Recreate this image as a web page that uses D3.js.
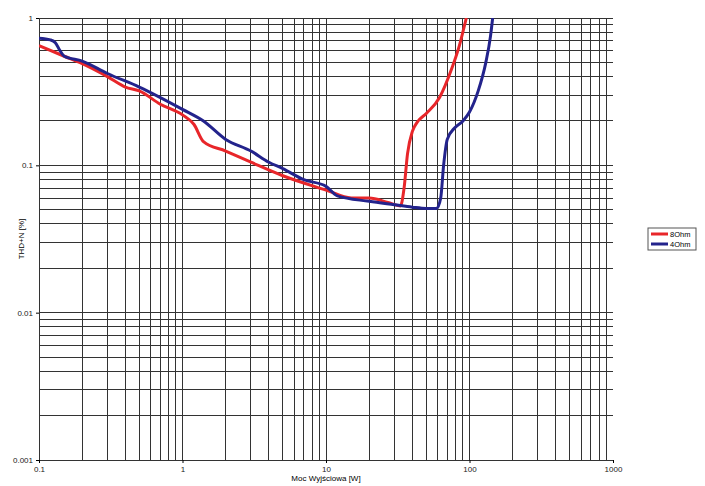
<!DOCTYPE html>
<html><head><meta charset="utf-8">
<script src="https://cdn.jsdelivr.net/npm/d3@7"></script>
<style>body{margin:0;background:#fff}svg{font-family:"Liberation Sans",Arial,sans-serif}</style>
</head><body><svg id="c" width="705" height="486"></svg>
<script>
// data: [power W, THD+N %]
const red8 = [[0.1,0.65],[0.15,0.55],[0.2,0.49],[0.3,0.40],[0.4,0.34],[0.5,0.32],[0.7,0.26],[1.0,0.22],[1.2,0.19],[1.4,0.145],[2,0.125],[3,0.105],[5,0.085],[10,0.068],[15,0.06],[20,0.06],[27,0.056],[33,0.053],[35,0.07],[37,0.12],[40,0.17],[43,0.195],[50,0.225],[62,0.29],[75,0.45],[85,0.65],[95,1.0]];
const blue4 = [[0.1,0.73],[0.12,0.71],[0.13,0.68],[0.14,0.60],[0.15,0.55],[0.2,0.51],[0.3,0.42],[0.5,0.34],[1,0.24],[1.4,0.2],[2,0.15],[3,0.125],[4,0.105],[5,0.095],[7,0.08],[10,0.072],[12,0.062],[20,0.057],[30,0.054],[40,0.052],[50,0.051],[59,0.051],[63,0.06],[66,0.1],[70,0.15],[79,0.18],[90,0.2],[100,0.23],[115,0.32],[130,0.5],[140,0.75],[145,1.0]];
const seriesNames = ["8Ohm","4Ohm"];
const seriesColors = ["#e8262a","#23238c"];
const xTicks = [0.1,1,10,100,1000];
const yTicks = [0.001,0.01,0.1,1];

const svg = d3.select("#c");
const x = d3.scaleLog().domain([0.1,1000]).range([39,613]);
const y = d3.scaleLog().domain([0.001,1]).range([460,18]);

const minor = d => d3.range(-4,3).flatMap(e => d3.range(1,10).map(k => k*Math.pow(10,e))).filter(v => v>=d[0]*0.999 && v<=d[1]*1.001);
const g = svg.append("g").attr("stroke","#333").attr("stroke-width",1).attr("shape-rendering","crispEdges");
g.selectAll(".vx").data(minor(x.domain())).join("line")
  .attr("x1",d=>x(d)).attr("x2",d=>x(d)).attr("y1",18).attr("y2",460);
g.selectAll(".hy").data(minor(y.domain())).join("line")
  .attr("y1",d=>y(d)).attr("y2",d=>y(d)).attr("x1",39).attr("x2",613);

svg.append("g").attr("transform","translate(0,460)")
  .call(d3.axisBottom(x).tickValues(xTicks).tickFormat(d3.format("~g")).tickSize(3))
  .call(a=>a.select(".domain").remove()).selectAll("text").attr("font-size",8).attr("fill","#222");
svg.append("g").attr("transform","translate(39,0)")
  .call(d3.axisLeft(y).tickValues(yTicks).tickFormat(d3.format("~g")).tickSize(3))
  .call(a=>a.select(".domain").remove()).selectAll("text").attr("font-size",8).attr("fill","#222");

svg.append("text").attr("x",326).attr("y",481).attr("text-anchor","middle").attr("font-size",8).text("Moc Wyjściowa [W]");
svg.append("text").attr("transform","translate(24,239) rotate(-90)").attr("text-anchor","middle").attr("font-size",8).text("THD+N [%]");

const line = d3.line().x(d=>x(d[0])).y(d=>y(d[1])).curve(d3.curveMonotoneX);
svg.append("defs").append("clipPath").attr("id","cp").append("rect").attr("x",39).attr("y",18).attr("width",574).attr("height",442);
[red8, blue4].forEach((s,i)=>{
  svg.append("path").datum(s).attr("d",line).attr("clip-path","url(#cp)")
    .attr("fill","none").attr("stroke",seriesColors[i]).attr("stroke-width",3);
});

const lg = svg.append("g").attr("transform","translate(648,228)");
lg.append("rect").attr("width",48).attr("height",22).attr("fill","#fff").attr("stroke","#555");
seriesNames.forEach((n,i)=>{
  lg.append("line").attr("x1",3).attr("x2",20).attr("y1",6+i*10).attr("y2",6+i*10).attr("stroke",seriesColors[i]).attr("stroke-width",3);
  lg.append("text").attr("x",22).attr("y",9+i*10).attr("font-size",7.5).text(n);
});
</script></body></html>
